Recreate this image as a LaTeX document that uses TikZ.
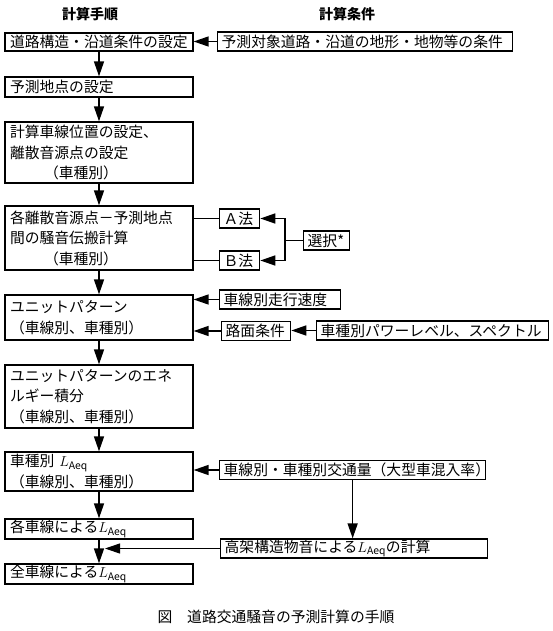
\documentclass[tikz,border=0pt]{standalone}
\usepackage{fontspec}
\setmainfont{Noto Sans CJK JP}
\usetikzlibrary{arrows.meta}

\begin{document}
\begin{tikzpicture}[x=1pt,y=-1pt,
    every node/.style={font=\fontsize{14.8}{20.5}\selectfont},
    proc/.style={draw, line width=1.3pt, minimum width=188pt, text width=178pt, inner xsep=5pt, inner ysep=0pt, align=left},
    cond/.style={draw, line width=1.3pt, anchor=west, inner xsep=4pt, inner ysep=0pt, minimum height=19pt, text width=#1, align=left},
    head/.style={font=\bfseries\fontsize{14}{16}\selectfont},
    arr/.style={-{Triangle[length=15pt,width=10pt]}, line width=1.5pt},
    link/.style={line width=1pt}]
    \useasboundingbox (0,0) rectangle (553,631);
    % headings
    \node[head] (hproc) at (90,14) {計算手順};
    \node[head] (hcond) at (347,14) {計算条件};
    % main procedure
    \node[proc, minimum height=18pt] (road) at (99,42) {道路構造・沿道条件の設定};
    \node[proc, minimum height=20pt] (pt) at (99,87) {予測地点の設定};
    \node[proc, minimum height=61pt] (lane) at (99,152.5) {計算車線位置の設定、\\離散音源点の設定\\\hspace*{2.3em}（車種別）};
    \node[proc, minimum height=64pt] (prop) at (99,238) {各離散音源点－予測地点\\間の騒音伝搬計算\\\hspace*{2.3em}（車種別）};
    \node[proc, minimum height=45pt] (unit) at (99,317.5) {ユニットパターン\\（車線別、車種別）};
    \node[proc, minimum height=63pt] (ener) at (99,396.5) {ユニットパターンのエネ\\ルギー積分\\（車線別、車種別）};
    \node[proc, minimum height=39pt] (cls) at (99,471.5) {車種別 $L_{\mathrm{Aeq}}$\\（車線別、車種別）};
    \node[proc, minimum height=20pt] (each) at (99,529) {各車線による$L_{\mathrm{Aeq}}$};
    \node[proc, minimum height=20pt] (all) at (99,574) {全車線による$L_{\mathrm{Aeq}}$};
    % conditions
    \node[cond=287pt] (terrain) at (217,41.5) {予測対象道路・沿道の地形・地物等の条件};
    \node[cond=32pt] (mA) at (219,218.5) {Ａ法};
    \node[cond=32pt] (mB) at (219,260.5) {Ｂ法};
    \node[cond=38pt] (sel) at (303,240.5) {選択*};
    \node[cond=113pt] (speed) at (219,299.5) {車線別走行速度};
    \node[cond=61pt] (surf) at (221,331) {路面条件};
    \node[cond=224pt] (power) at (316,330.5) {車種別パワーレベル、スペクトル};
    \node[cond=258pt] (traffic) at (219,470) {車線別・車種別交通量（大型車混入率）};
    \node[cond=259pt] (elev) at (220,548.5) {高架構造物音による$L_{\mathrm{Aeq}}$の計算};
    \node (cap) at (276,617) {図　道路交通騒音の予測計算の手順};
    \coordinate (fork) at (285,240.5);
    \coordinate (merge) at (105,548.5);
    % trunk
    \draw[arr] (road) -- (pt);
    \draw[arr] (pt) -- (lane);
    \draw[arr] (lane) -- (prop);
    \draw[arr] (prop) -- (unit);
    \draw[arr] (unit) -- (ener);
    \draw[arr] (ener) -- (cls);
    \draw[arr] (cls) -- (each);
    \draw[arr] (each) -- (all);
    % side inputs
    \draw[arr] (terrain.west) -- (terrain.west -| road.east);
    \draw[line width=1.5pt] (prop.east |- mA.west) -- (mA.west);
    \draw[link] (prop.east |- mB.west) -- (mB.west);
    \draw[link] (sel.west) -- (fork);
    \draw[arr] (fork) |- (mA.east);
    \draw[arr] (fork) |- (mB.east);
    \draw[arr] (speed.west) -- (speed.west -| unit.east);
    \draw[arr] (surf.west) -- (surf.west -| unit.east);
    \draw[arr] (power.west) -- (power.west -| surf.east);
    \draw[arr] (traffic.west) -- (traffic.west -| cls.east);
    \draw[arr] (traffic.south) -- (traffic.south |- elev.north);
    \draw[arr, line width=1pt] (elev.west) -- (merge);
\end{tikzpicture}
\end{document}
